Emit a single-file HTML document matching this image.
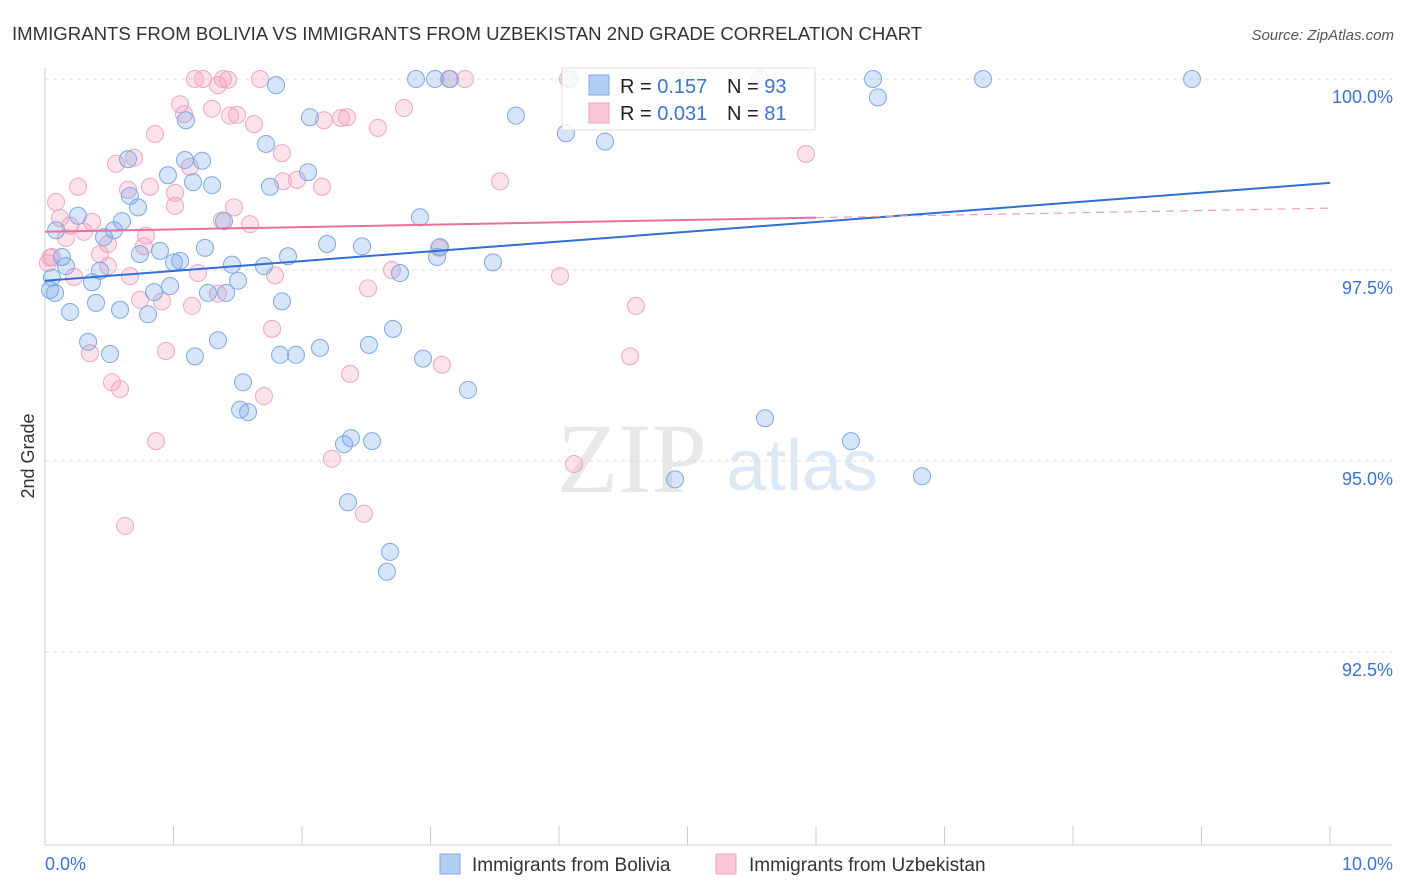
<!DOCTYPE html>
<html><head><meta charset="utf-8"><style>
body{margin:0;background:#fff;font-family:"Liberation Sans",sans-serif;}
svg{display:block}
</style></head><body>
<svg id="chart" width="1406" height="892">
<text x="12" y="40" font-size="18.6" fill="#333">IMMIGRANTS FROM BOLIVIA VS IMMIGRANTS FROM UZBEKISTAN 2ND GRADE CORRELATION CHART</text>
<text x="1394" y="40" font-size="15" fill="#555" text-anchor="end" font-style="italic">Source: ZipAtlas.com</text>
<text x="34" y="456" font-size="18" fill="#333" text-anchor="middle" transform="rotate(-90 34 456)">2nd Grade</text>
<g><text x="632" y="492" font-size="100" fill="#e8e8e8" font-family="Liberation Serif" text-anchor="middle">ZIP</text><text x="802" y="490" font-size="72" fill="#dde8f5" text-anchor="middle">atlas</text></g>
<g id="grid"></g><g id="axes"></g><g id="pts"></g><g id="lines"></g>
<g>
<rect x="562" y="68" width="253" height="62" fill="#fff" fill-opacity="0.85" stroke="#ddd"/>
<rect x="589" y="75" width="20" height="20" fill="#b4cdf2" stroke="#7fa8e4"/>
<rect x="589" y="103" width="20" height="20" fill="#f8c6d6" stroke="#eda0bb"/>
<text x="620" y="93" font-size="20" fill="#222">R = <tspan fill="#3b73d1">0.157</tspan><tspan x="727">N = </tspan><tspan fill="#3b73d1">93</tspan></text>
<text x="620" y="120" font-size="20" fill="#222">R = <tspan fill="#3b73d1">0.031</tspan><tspan x="727">N = </tspan><tspan fill="#3b73d1"> 81</tspan></text>
</g>
<g>
<rect x="440" y="854" width="20" height="20" fill="#b4cdf2" stroke="#7fa8e4"/>
<text x="472" y="871" font-size="19" fill="#333">Immigrants from Bolivia</text>
<rect x="716" y="854" width="20" height="20" fill="#f8c6d6" stroke="#eda0bb"/>
<text x="749" y="871" font-size="19" fill="#333">Immigrants from Uzbekistan</text>
</g>
</svg>
<script>
const blueX=[2.887,3.035,3.152,4.086,4.981,5.564,6.444,7.300,8.926,1.798,6.482,2.062,3.665,1.097,4.054,4.358,1.720,0.646,1.089,1.222,0.957,2.047,1.152,1.300,1.751,0.661,0.724,0.599,2.918,1.393,0.257,0.086,0.537,0.459,2.195,2.467,1.245,0.895,0.739,1.891,3.074,3.051,0.132,1.004,1.051,0.163,0.428,1.455,1.704,2.763,3.486,0.054,0.366,1.502,0.973,0.848,1.268,1.409,1.844,0.397,0.584,0.195,0.802,2.708,0.335,1.346,2.521,2.140,0.506,1.167,1.829,1.953,2.942,3.292,1.541,1.518,1.580,5.603,2.381,2.327,2.545,6.272,4.903,6.825,2.358,2.685,2.661,0.039,0.078];
const blueY=[100,100,100,100,100,100,100,100,100,99.92,99.76,99.50,99.52,99.46,99.29,99.18,99.15,98.95,98.94,98.93,98.74,98.78,98.65,98.61,98.59,98.47,98.32,98.14,98.19,98.14,98.21,98.02,98.02,97.93,97.84,97.81,97.79,97.75,97.71,97.68,97.80,97.67,97.67,97.60,97.62,97.55,97.49,97.57,97.55,97.46,97.60,97.40,97.34,97.36,97.29,97.21,97.20,97.20,97.09,97.07,96.98,96.95,96.92,96.73,96.56,96.58,96.52,96.48,96.40,96.37,96.39,96.39,96.34,95.93,96.03,95.67,95.64,95.56,95.30,95.22,95.26,95.26,94.76,94.80,94.46,93.81,93.55,97.24,97.20];
const pinkX=[1.167,1.230,1.385,1.424,1.673,3.144,3.268,4.070,1.051,1.300,1.082,1.440,1.494,1.346,2.794,2.171,2.304,2.350,2.591,1.626,0.856,1.844,0.693,0.553,1.128,5.922,0.257,1.961,1.852,2.156,3.541,0.646,0.817,0.086,1.012,1.471,1.012,1.377,1.595,0.117,0.366,0.195,0.304,0.786,0.490,0.770,0.163,3.066,0.054,0.428,0.490,1.191,1.790,2.700,4.008,0.226,0.661,2.514,1.346,0.739,0.911,1.144,4.599,1.767,0.350,0.942,4.553,3.089,2.374,0.521,0.584,1.704,0.864,2.233,4.117,2.482,0.623,0.023,0.039];
const pinkY=[100,100,100,99.99,100,100,100,100,99.67,99.61,99.54,99.52,99.53,99.92,99.62,99.46,99.49,99.50,99.36,99.41,99.28,99.03,98.97,98.89,98.85,99.02,98.59,98.68,98.66,98.59,98.66,98.55,98.59,98.39,98.51,98.32,98.34,98.15,98.10,98.18,98.13,98.08,98.00,97.95,97.84,97.81,97.92,97.79,97.67,97.71,97.55,97.46,97.43,97.50,97.42,97.41,97.42,97.26,97.19,97.11,97.09,97.03,97.03,96.73,96.41,96.44,96.37,96.26,96.14,96.03,95.94,95.85,95.26,95.03,94.96,94.31,94.15,97.59,97.66];
const blueTrend=[97.36,98.64];
const pinkTrend=[98.00,98.31];
const pinkSolidEnd=6;
const yTicks=[100,97.5,95,92.5];
const yTickLabels=["100.0%","97.5%","95.0%","92.5%"];
const xLabels=["0.0%","10.0%"];
const NS="http://www.w3.org/2000/svg";
const X=v=>45+v*128.5, Y=v=>79+(100-v)*76.4;
function mk(tag,attrs,parent){const e=document.createElementNS(NS,tag);for(const k in attrs)e.setAttribute(k,attrs[k]);parent.appendChild(e);return e;}
const grid=document.getElementById('grid'),axes=document.getElementById('axes'),pts=document.getElementById('pts'),lines=document.getElementById('lines');
yTicks.forEach((t,i)=>{
 const l=mk('line',{x1:45,x2:1392,y1:Y(t),y2:Y(t),stroke:'#ddd','stroke-dasharray':'4,4'},grid);
 
 
 const tx=mk('text',{x:1393,y:Y(t)+24,'font-size':18,fill:'#3b73d1','text-anchor':'end'},axes);
 tx.textContent=yTickLabels[i];
 
 
});
const ax=mk('line',{x1:45,x2:1392,y1:845,y2:845,stroke:'#ccc'},axes);


const ay=mk('line',{x1:45,x2:45,y1:68,y2:845,stroke:'#ccc'},axes);


for(let i=0;i<=10;i++){
 const t=mk('line',{x1:X(i),x2:X(i),y1:826,y2:845,stroke:'#ccc'},axes);
 
 
}
const xl0=mk('text',{x:45,y:870,'font-size':18,fill:'#3b73d1'},axes);xl0.textContent=xLabels[0];


const xl1=mk('text',{x:1393,y:870,'font-size':18,fill:'#3b73d1','text-anchor':'end'},axes);xl1.textContent=xLabels[1];


function drawPts(xs,ys,fill,stroke,name){xs.forEach((x,i)=>{
 const c=mk('circle',{cx:X(x),cy:Y(ys[i]),r:8.5,fill:fill,stroke:stroke,'stroke-width':1},pts);
 
 
});}
drawPts(pinkX,pinkY,'rgba(245,160,190,0.3)','#f0a6c0','point-uzbekistan');
drawPts(blueX,blueY,'rgba(110,160,235,0.28)','#7fa8e4','point-bolivia');
const bl=mk('line',{x1:X(0),y1:Y(blueTrend[0]),x2:X(10),y2:Y(blueTrend[1]),stroke:'#2f6fd6','stroke-width':2},lines);


const pMid=pinkTrend[0]+(pinkTrend[1]-pinkTrend[0])*pinkSolidEnd/10;
const pl=mk('line',{x1:X(0),y1:Y(pinkTrend[0]),x2:X(pinkSolidEnd),y2:Y(pMid),stroke:'#e8709a','stroke-width':2},lines);


const pd=mk('line',{x1:X(pinkSolidEnd),y1:Y(pMid),x2:X(10),y2:Y(pinkTrend[1]),stroke:'#e8a0b8','stroke-width':1.2,'stroke-dasharray':'8,6'},lines);


</script>
</body></html>
